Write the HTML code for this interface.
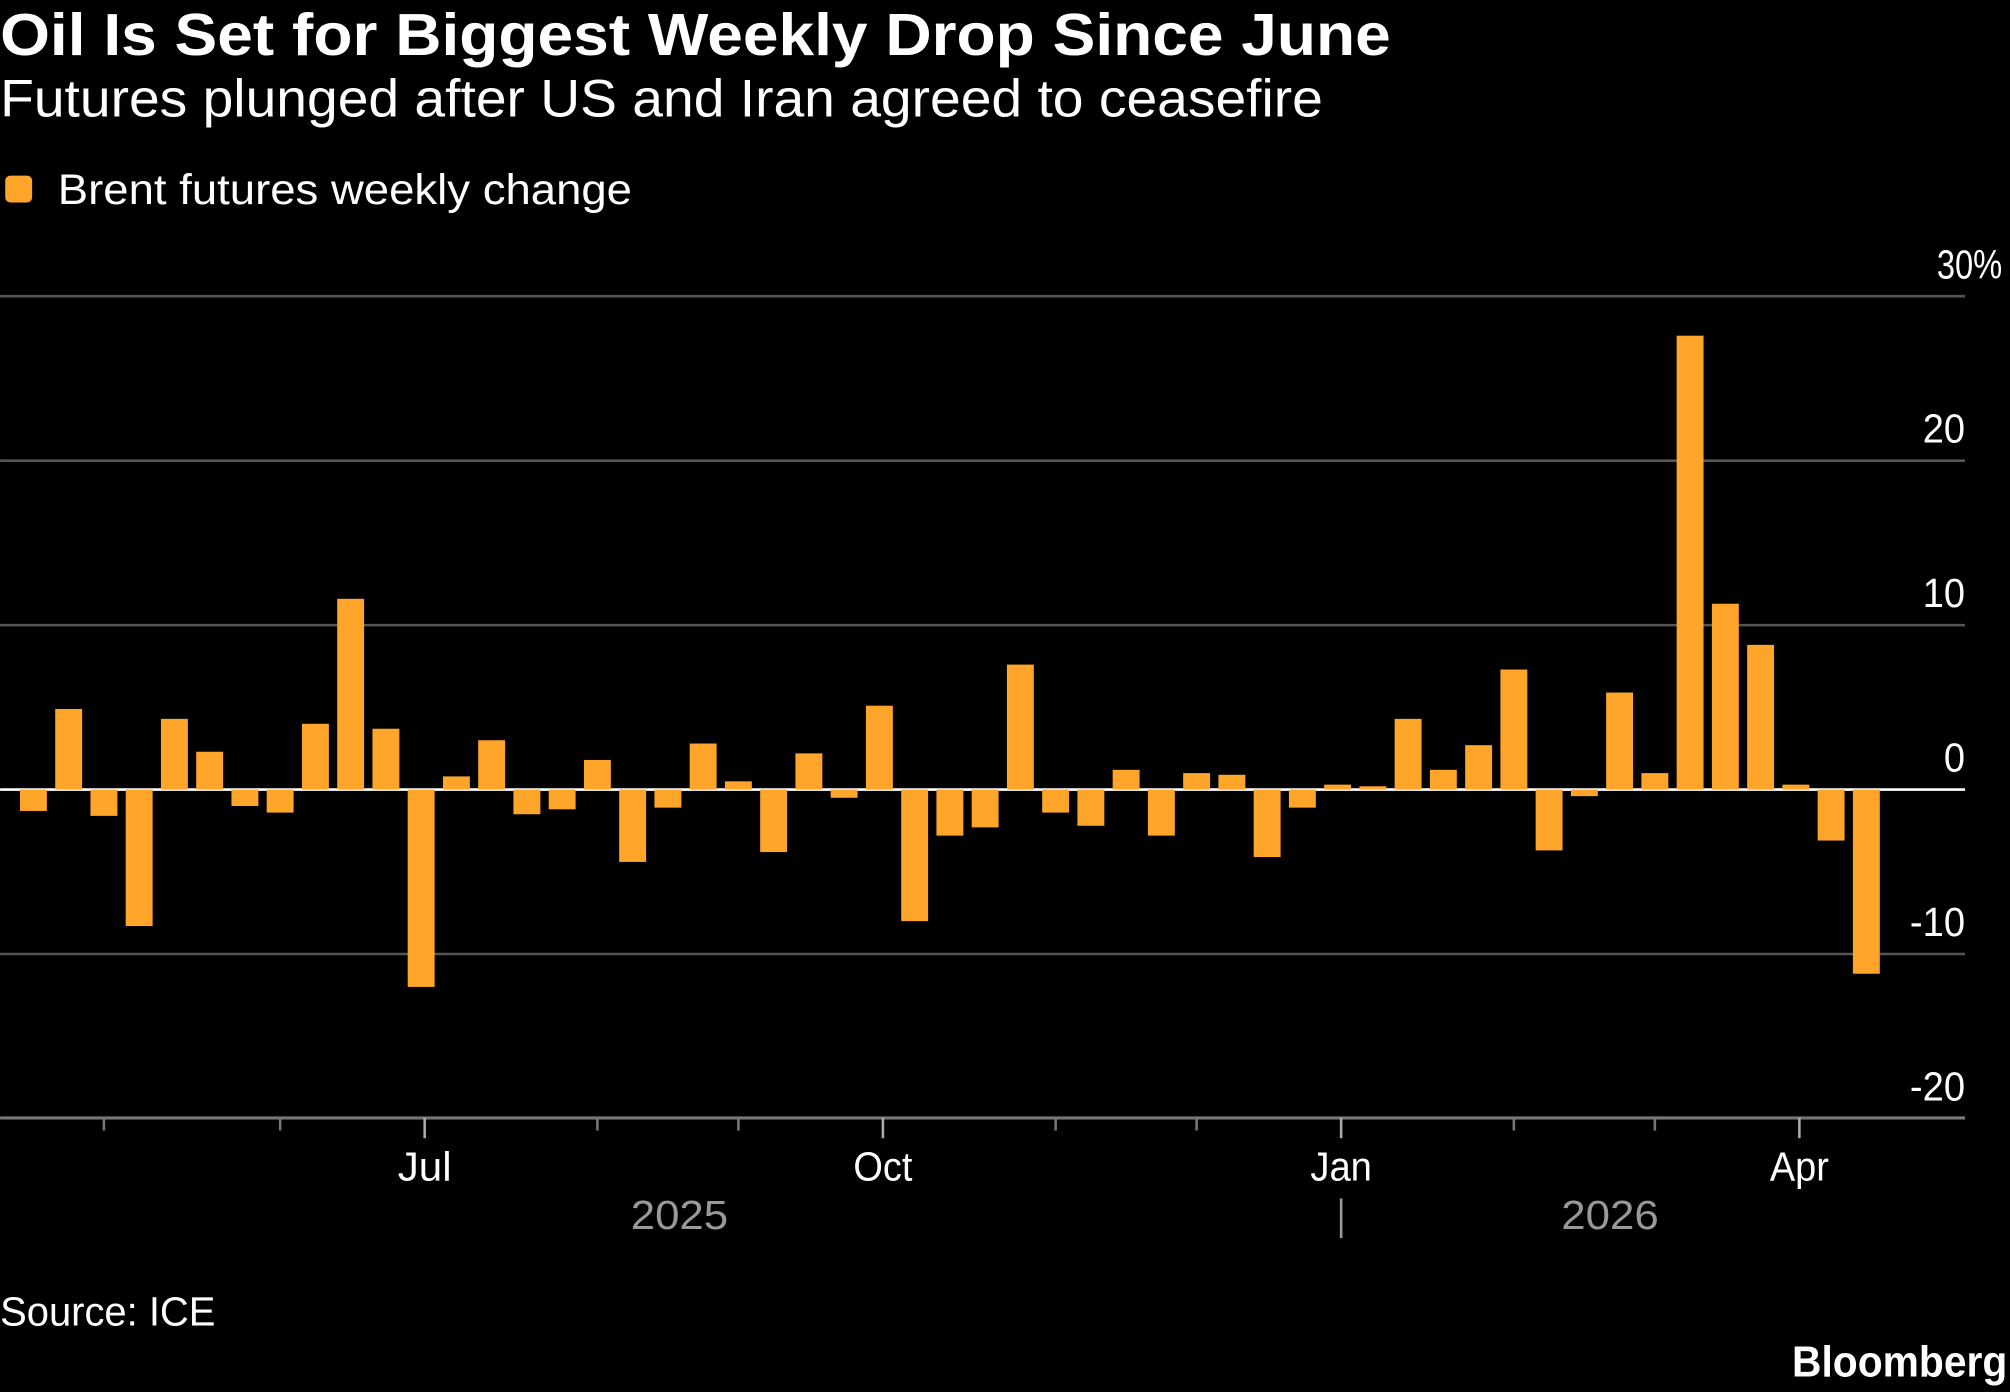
<!DOCTYPE html>
<html><head><meta charset="utf-8"><style>
html,body{margin:0;padding:0;background:#000;}
svg{display:block;font-family:"Liberation Sans",sans-serif;}
</style></head><body>
<svg id="chart" width="2010" height="1392" viewBox="0 0 1568 1086" xmlns="http://www.w3.org/2000/svg">
<rect width="1568" height="1086" fill="#000"/>
<text x="0" y="43" fill="#fff" font-size="46" font-weight="bold" textLength="1085" lengthAdjust="spacingAndGlyphs">Oil Is Set for Biggest Weekly Drop Since June</text>
<text x="0" y="91" fill="#fff" font-size="41" textLength="1032" lengthAdjust="spacingAndGlyphs">Futures plunged after US and Iran agreed to ceasefire</text>
<g>
<rect x="4" y="137" width="21" height="21" rx="4" fill="#ffa52a"/>
<text x="45" y="159" fill="#fff" font-size="33" textLength="448" lengthAdjust="spacingAndGlyphs">Brent futures weekly change</text>
</g>
<g id="grid"></g><g id="bars"></g><g id="xaxis"></g>
<text x="0" y="1034" fill="#fff" font-size="32" textLength="168" lengthAdjust="spacingAndGlyphs">Source: ICE</text>
<text x="1566" y="1074" fill="#fff" font-size="34" font-weight="bold" text-anchor="end" textLength="168" lengthAdjust="spacingAndGlyphs">Bloomberg</text>
</svg>
<script>
const values=[-1.3,4.9,-1.6,-8.3,4.3,2.3,-1.0,-1.4,4.0,11.6,3.7,-12.0,0.8,3.0,-1.5,-1.2,1.8,-4.4,-1.1,2.8,0.5,-3.8,2.2,-0.5,5.1,-8.0,-2.8,-2.3,7.6,-1.4,-2.2,1.2,-2.8,1.0,0.9,-4.1,-1.1,0.3,0.2,4.3,1.2,2.7,7.3,-3.7,-0.4,5.9,1.0,27.6,11.3,8.8,0.3,-3.1,-11.2];
const yTicks=[30,20,10,0,-10,-20];
const yTickLabels=["30%","20","10","0","-10","-20"];
const monthLabels=["Jul","Oct","Jan","Apr"];
const monthIndex=[11.1,24.1,37.1,50.1];
const minorIndex=[2,7,16,20,29,33,42,46];
const years=["2025","2026"];
const NS="http://www.w3.org/2000/svg";
function y(v){return 616-v*12.83;}
function x(i){return 26+i*27.5;}
function mk(tag,attrs,parent){const e=document.createElementNS(NS,tag);for(const k in attrs)e.setAttribute(k,attrs[k]);parent.appendChild(e);return e;}
function tl(s){let w=0;for(const c of s){w+=c==='%'?18:(c==='-'?10:16.5);}return w;}
const grid=document.getElementById('grid'),bars=document.getElementById('bars'),xa=document.getElementById('xaxis');
yTicks.forEach((t,i)=>{
 if(t!==0){const l=mk('line',{x1:0,x2:1533,y1:y(t),y2:y(t),stroke:'#555','stroke-width':2},grid);
 
 }
 const tx=mk('text',{x:t===30?1562:1533,y:y(t)-14,fill:'#fff','font-size':32,'text-anchor':'end',textLength:tl(yTickLabels[i]),lengthAdjust:'spacingAndGlyphs'},grid);
 tx.textContent=yTickLabels[i];
 
 
});
values.forEach((v,i)=>{
 const r=mk('rect',{x:x(i)-10.5,width:21,y:Math.min(y(v),y(0)),height:Math.abs(y(v)-y(0)),fill:'#ffa52a'},bars);
 
 
});
const z=mk('line',{x1:0,x2:1533,y1:y(0),y2:y(0),stroke:'#fff','stroke-width':2},grid);


const ax=mk('line',{x1:0,x2:1533,y1:872,y2:872,stroke:'#777','stroke-width':2},xa);


minorIndex.forEach(m=>{const t=mk('line',{x1:x(m)-(m%1),x2:x(m),y1:872,y2:882,stroke:'#777','stroke-width':2},xa);
 
 });
const monthW=[42,46,48,46];
monthLabels.forEach((m,i)=>{const px=x(monthIndex[i]);
 const t=mk('line',{x1:px,x2:px,y1:872,y2:888,stroke:'#aaa','stroke-width':2},xa);
 
 
 const tx=mk('text',{x:px,y:921,fill:'#fff','font-size':32,'text-anchor':'middle',textLength:monthW[i],lengthAdjust:'spacingAndGlyphs'},xa);
 tx.textContent=m;
 
 });
[530,1256].forEach((px,i)=>{const tx=mk('text',{x:px,y:959,fill:'#999','font-size':32,'text-anchor':'middle',textLength:76,lengthAdjust:'spacingAndGlyphs'},xa);
 tx.textContent=years[i];
 
 });
const sep=mk('line',{x1:x(monthIndex[2]),x2:x(monthIndex[2]),y1:935,y2:966,stroke:'#999','stroke-width':2},xa);


</script>
</body></html>
